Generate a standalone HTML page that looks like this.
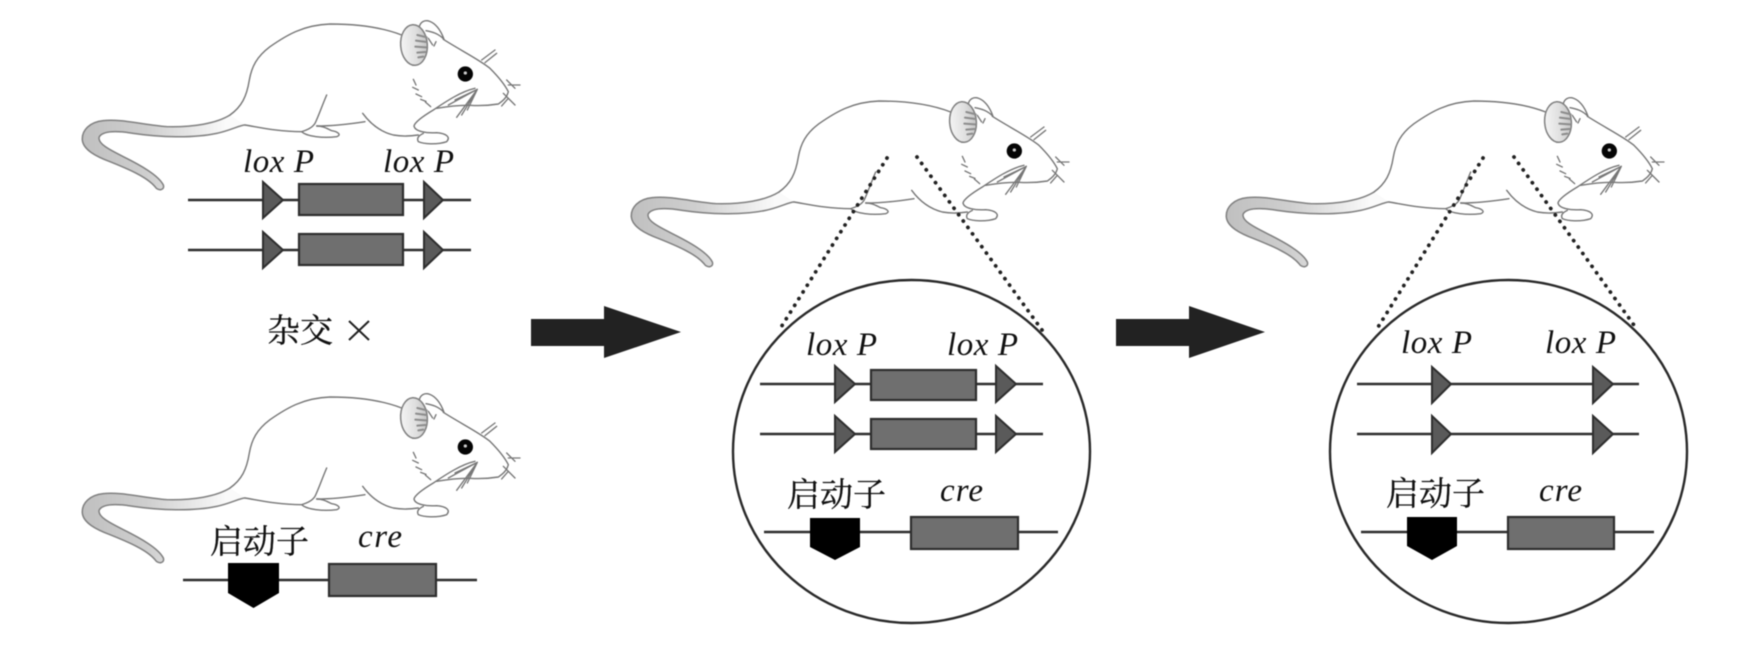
<!DOCTYPE html>
<html lang="zh">
<head>
<meta charset="utf-8">
<title>Cre-loxP</title>
<style>
html,body{margin:0;padding:0;background:#fff;width:1744px;height:660px;overflow:hidden}
svg{display:block;filter:blur(.6px)}
.lat{font-family:"Liberation Serif",serif;font-style:italic;font-size:33px;fill:#111}
.cjk{font-family:"Liberation Serif","Noto Serif CJK SC",serif;font-size:33px;fill:#111;stroke:#111;stroke-width:.3}
.ln{stroke:#2e2e2e;stroke-width:2.4;fill:none}
.tr{fill:#5a5a5a;stroke:#2e2e2e;stroke-width:2}
.bx{fill:#6f6f6f;stroke:#2e2e2e;stroke-width:2.2}
.dot{stroke:#222;stroke-width:3.8;stroke-linecap:round;stroke-dasharray:.1 7.8;fill:none}
.ring{fill:none;stroke:#2a2a2a;stroke-width:2.4}
.m{fill:none;stroke:#777;stroke-width:4.2;stroke-linecap:round;stroke-linejoin:round}
.d{fill:none;stroke:#777;stroke-width:4;stroke-linecap:round}
</style>
</head>
<body>
<svg xmlns="http://www.w3.org/2000/svg" width="1744" height="660" viewBox="0 0 1744 660">
<defs>
<linearGradient id="eg" x1="0" x2="1" y1="0" y2="0"><stop offset="0" stop-color="#f4f4f4"/><stop offset=".6" stop-color="#dedede"/><stop offset="1" stop-color="#c4c4c4"/></linearGradient>
<linearGradient id="tg" gradientUnits="userSpaceOnUse" x1="70" x2="500" y1="0" y2="0"><stop offset="0" stop-color="#c0c0c0"/><stop offset=".45" stop-color="#cfcfcf"/><stop offset="1" stop-color="#fafafa"/></linearGradient>
<g id="mouse" transform="translate(60,0) scale(.33333)">
<!-- tail -->
<path d="M510,345C470,370 400,382 320,380C250,374 180,356 130,362C90,366 65,390 67,420C70,450 110,470 150,485C200,505 260,530 285,560C295,575 315,570 310,555C295,525 240,495 190,470C150,450 110,430 118,410C130,392 170,392 220,400C300,412 400,415 470,400C510,392 540,375 555,375" fill="url(#tg)" stroke="#808080" stroke-width="4.500" stroke-linejoin="round"/>
<!-- back -->
<path class="m" d="M1025,105C960,80 880,72 810,72C730,75 680,105 630,140C590,170 575,200 568,240C560,290 545,320 510,345"/>
<path class="m" d="M555,375C590,380 650,395 725,395"/>
<!-- hind leg & paw -->
<path class="m" d="M800,285C785,320 775,350 765,370C755,385 740,390 725,395C740,410 790,415 830,410C845,405 835,395 815,392C800,385 790,378 770,378"/>
<path class="m" d="M770,378C820,378 870,372 915,365"/>
<path class="m" d="M908,340C930,370 960,395 1000,405C1030,410 1050,408 1075,405"/>
<!-- front leg & paw -->
<path class="m" d="M1245,265C1200,275 1150,310 1120,330C1095,345 1065,365 1062,378C1065,395 1100,400 1130,398C1160,400 1172,412 1160,425C1130,435 1090,432 1075,425C1068,412 1080,405 1090,400"/>
<!-- head -->
<path class="m" d="M1150,118C1200,150 1260,180 1290,205C1315,230 1335,255 1345,275C1340,295 1325,305 1315,312C1290,316 1260,318 1230,316C1200,315 1170,318 1130,325"/>
<!-- ears -->
<path class="m" d="M1078,80C1085,50 1130,55 1152,118C1135,100 1115,95 1098,92"/>
<ellipse cx="1062" cy="135" rx="40" ry="61" fill="url(#eg)" stroke="#808080" stroke-width="4.500" transform="rotate(-4 1062 135)"/>
<path d="M1072,105L1100,112M1068,122L1100,126M1066,140L1098,142M1072,158L1096,156M1075,172L1090,170" fill="none" stroke="#8c8c8c" stroke-width="6" stroke-linecap="round"/>
<path class="d" d="M1105,115L1118,135M1128,125L1122,138"/>
<!-- eye -->
<circle cx="1216" cy="222" r="23" fill="#050505"/>
<circle cx="1216" cy="219" r="5" fill="#ccc"/>
<!-- nose hairs -->
<path class="d" d="M1265,180L1305,150M1275,188L1310,160M1345,255L1380,255M1340,240L1365,265M1330,280L1365,315M1325,318L1345,295"/>
<!-- cheek -->
<path class="d" d="M1060,238L1068,255M1058,262L1075,270M1068,282L1085,290M1082,298L1098,304M1096,306L1112,320"/>
<!-- whiskers -->
<path class="d" d="M1252,268L1190,352M1252,268L1205,345M1252,268L1222,330M1252,268L1165,315M1252,268L1185,300"/>
</g>
</defs>
<rect width="1744" height="660" fill="#fff"/>

<!-- mice -->
<use href="#mouse"/>
<use href="#mouse" y="373"/>
<use href="#mouse" x="549" y="77"/>
<use href="#mouse" x="1144" y="77"/>

<!-- top left DNA -->
<text class="lat" x="243" y="172" textLength="71">lox P</text>
<text class="lat" x="383" y="172" textLength="71">lox P</text>
<path class="ln" d="M188 200H471M188 250H471"/>
<path class="tr" d="M263 182L283 200L263 218Z"/><path class="tr" d="M424 182L443 200L424 218Z"/>
<path class="tr" d="M263 232L283 250L263 268Z"/><path class="tr" d="M424 232L443 250L424 268Z"/>
<rect class="bx" x="299" y="184" width="104" height="31"/>
<rect class="bx" x="299" y="234" width="104" height="31"/>

<!-- cross -->
<text class="cjk" x="267" y="342">杂交</text>
<path d="M349 321L369 340M369 321L349 340" stroke="#222" stroke-width="2" fill="none"/>

<!-- bottom left DNA -->
<text class="cjk" x="210" y="553">启动子</text>
<text class="lat" x="358" y="547" textLength="44">cre</text>
<path class="ln" d="M183 580H477"/>
<path d="M228 563H279V593L253.500 608L228 593Z" fill="#000"/>
<rect class="bx" x="329" y="564" width="107" height="32"/>

<!-- arrows -->
<path d="M531 319H604V306L681 332L604 358V346H531Z" fill="#222"/>
<path d="M1116 319H1189V306L1265 332L1189 358V346H1116Z" fill="#222"/>

<!-- dotted -->
<path class="dot" d="M887 158L778 332"/>
<path class="dot" d="M917 157L1042 330"/>
<path class="dot" d="M1483 158L1375 332"/>
<path class="dot" d="M1514 157L1636 328"/>

<!-- circle 2 -->
<ellipse class="ring" cx="911.500" cy="451.500" rx="178.500" ry="171.500"/>
<text class="lat" x="806" y="355" textLength="71">lox P</text>
<text class="lat" x="947" y="355" textLength="71">lox P</text>
<path class="ln" d="M760 384H1043M760 434H1043"/>
<path class="tr" d="M835 366L855 384L835 402Z"/><path class="tr" d="M996 366L1016 384L996 402Z"/>
<path class="tr" d="M835 416L855 434L835 452Z"/><path class="tr" d="M996 416L1016 434L996 452Z"/>
<rect class="bx" x="871" y="370" width="105" height="30"/>
<rect class="bx" x="871" y="419" width="105" height="30"/>
<text class="cjk" x="787" y="506">启动子</text>
<text class="lat" x="940" y="501" textLength="43">cre</text>
<path class="ln" d="M764 532H1058"/>
<path d="M810 518H860V547L835 560L810 547Z" fill="#000"/>
<rect class="bx" x="911" y="517" width="107" height="32"/>

<!-- circle 3 -->
<ellipse class="ring" cx="1508.500" cy="451.500" rx="178.500" ry="171.500"/>
<text class="lat" x="1401" y="353" textLength="71">lox P</text>
<text class="lat" x="1545" y="353" textLength="71">lox P</text>
<path class="ln" d="M1357 384H1639M1357 434H1639"/>
<path class="tr" d="M1432 367L1451 384L1432 403Z"/><path class="tr" d="M1593 367L1613 384L1593 403Z"/>
<path class="tr" d="M1432 416L1451 434L1432 453Z"/><path class="tr" d="M1593 416L1613 434L1593 453Z"/>
<text class="cjk" x="1386" y="505">启动子</text>
<text class="lat" x="1539" y="501" textLength="43">cre</text>
<path class="ln" d="M1361 532H1654"/>
<path d="M1407 517H1457V546L1432 560L1407 546Z" fill="#000"/>
<rect class="bx" x="1508" y="517" width="106" height="32"/>
</svg>
</body>
</html>
